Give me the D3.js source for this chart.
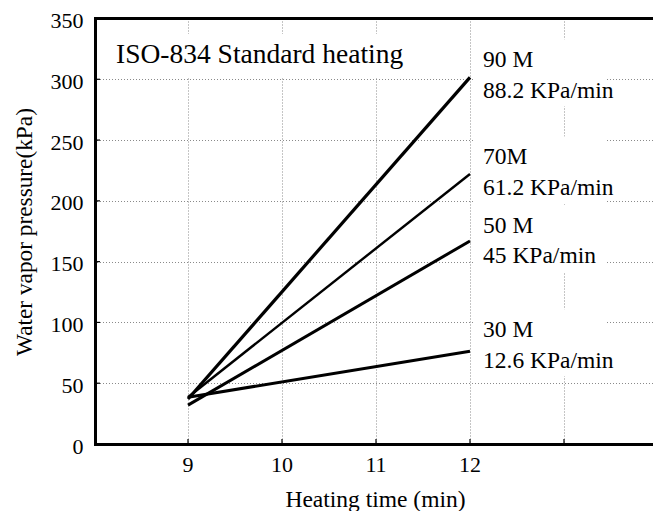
<!DOCTYPE html>
<html>
<head>
<meta charset="utf-8">
<script src="https://cdn.jsdelivr.net/npm/d3@7/dist/d3.min.js"></script>
<style>
  html, body { margin: 0; padding: 0; background: #fff; }
  svg { display: block; }
</style>
</head>
<body>
<svg id="chart" width="653" height="511" font-family="'Liberation Serif', 'Times New Roman', serif"></svg>
<script>
// Heating window (min) and the four specimen series
const heatTimes = [9, 12];
const seriesNames = ["90 M", "70M", "50 M", "30 M"];
const startPressure = [37, 38.5, 32, 38.5];      // kPa at 9 min
const rates = [88.2, 61.2, 45, 12.6];            // KPa/min over 9–12 min
const xTicks = [9, 10, 11, 12, 13];
const xTickLabels = ["9", "10", "11", "12", ""];
const yTicks = [0, 50, 100, 150, 200, 250, 300, 350];
const titleText = "ISO-834 Standard heating";

const svg = d3.select("#chart");
const W = 653, H = 511;

const x = d3.scaleLinear().domain([8, 14]).range([94, 658]);
const y = d3.scaleLinear().domain([0, 350]).range([444, 18.5]);

// dotted grid
const grid = svg.append("g").attr("stroke", "#8a8a8a").attr("stroke-width", 1)
  .attr("stroke-dasharray", "1,2");
grid.selectAll("line.v").data(xTicks).join("line")
  .attr("x1", d => Math.round(x(d)) + 0.5).attr("x2", d => Math.round(x(d)) + 0.5)
  .attr("y1", y(350)).attr("y2", y(0));
grid.selectAll("line.h").data(yTicks.slice(1, -1)).join("line")
  .attr("x1", x(8)).attr("x2", W)
  .attr("y1", d => Math.round(y(d)) + 0.5).attr("y2", d => Math.round(y(d)) + 0.5);

// series lines
const widths = [3.2, 2.4, 3, 3];
const lineData = seriesNames.map((name, i) => ({
  name,
  rate: rates[i],
  pts: heatTimes.map(t => [t, startPressure[i] + rates[i] * (t - heatTimes[0])])
}));
const line = d3.line().x(d => x(d[0])).y(d => y(d[1]));
svg.append("g").selectAll("path").data(lineData).join("path")
  .attr("d", d => line(d.pts))
  .attr("fill", "none").attr("stroke", "#000")
  .attr("stroke-width", (d, i) => widths[i])
  .attr("stroke-linecap", "butt");

// series annotations with white boxes
const labelDy = [-10, -9.5, -8, -14];
const ann = svg.append("g");
lineData.forEach((d, i) => {
  const end = d.pts[d.pts.length - 1];
  const bx = x(end[0]) + 13;
  const by = y(end[1]) + labelDy[i];
  ann.append("rect").attr("x", bx - 8).attr("y", by - 28)
    .attr("width", 130).attr("height", 67).attr("fill", "#fff");
  ann.append("text").attr("x", bx).attr("y", by)
    .attr("font-size", 23.5).attr("fill", "#000").text(d.name);
  ann.append("text").attr("x", bx).attr("y", by + 30.5)
    .attr("font-size", 23.5).attr("fill", "#000").text(`${d.rate} KPa/min`);
});

// title box
svg.append("rect").attr("x", 97.5).attr("y", 34).attr("width", 313).attr("height", 43).attr("fill", "#fff");
svg.append("text").attr("x", 116).attr("y", 63).attr("font-size", 27.5).attr("fill", "#000").text(titleText);

// axes ticks (inward)
const tk = svg.append("g").attr("stroke", "#000").attr("stroke-width", 1.2);
tk.selectAll("line.xt").data(xTicks).join("line")
  .attr("x1", d => x(d)).attr("x2", d => x(d))
  .attr("y1", y(0)).attr("y2", y(0) - 5);
tk.selectAll("line.yt").data(yTicks).join("line")
  .attr("x1", 95).attr("x2", 100)
  .attr("y1", d => y(d)).attr("y2", d => y(d));

// spines: left, bottom, top
const sp = svg.append("g").attr("stroke", "#000").attr("stroke-width", 3).attr("fill", "none");
sp.append("line").attr("x1", 95.5).attr("x2", 95.5).attr("y1", y(350) - 1.5).attr("y2", y(0) + 1.5);
sp.append("line").attr("x1", 94).attr("x2", W).attr("y1", y(0) + 0.5).attr("y2", y(0) + 0.5);
sp.append("line").attr("x1", 94).attr("x2", W).attr("y1", y(350)).attr("y2", y(350));

// tick labels
svg.append("g").selectAll("text").data(xTicks).join("text")
  .attr("x", d => x(d)).attr("y", 472)
  .attr("text-anchor", "middle").attr("font-size", 22)
  .text((d, i) => xTickLabels[i]);
svg.append("g").selectAll("text").data(yTicks).join("text")
  .attr("x", 83.5).attr("y", d => y(d) + 9.5)
  .attr("text-anchor", "end").attr("font-size", 22)
  .text(d => d);

// axis titles
svg.append("text").attr("x", 375.5).attr("y", 507)
  .attr("text-anchor", "middle").attr("font-size", 23.5)
  .text("Heating time (min)");
svg.append("text").attr("transform", `translate(32,232) rotate(-90)`)
  .attr("text-anchor", "middle").attr("font-size", 23.3)
  .text("Water vapor pressure(kPa)");
</script>
</body>
</html>
